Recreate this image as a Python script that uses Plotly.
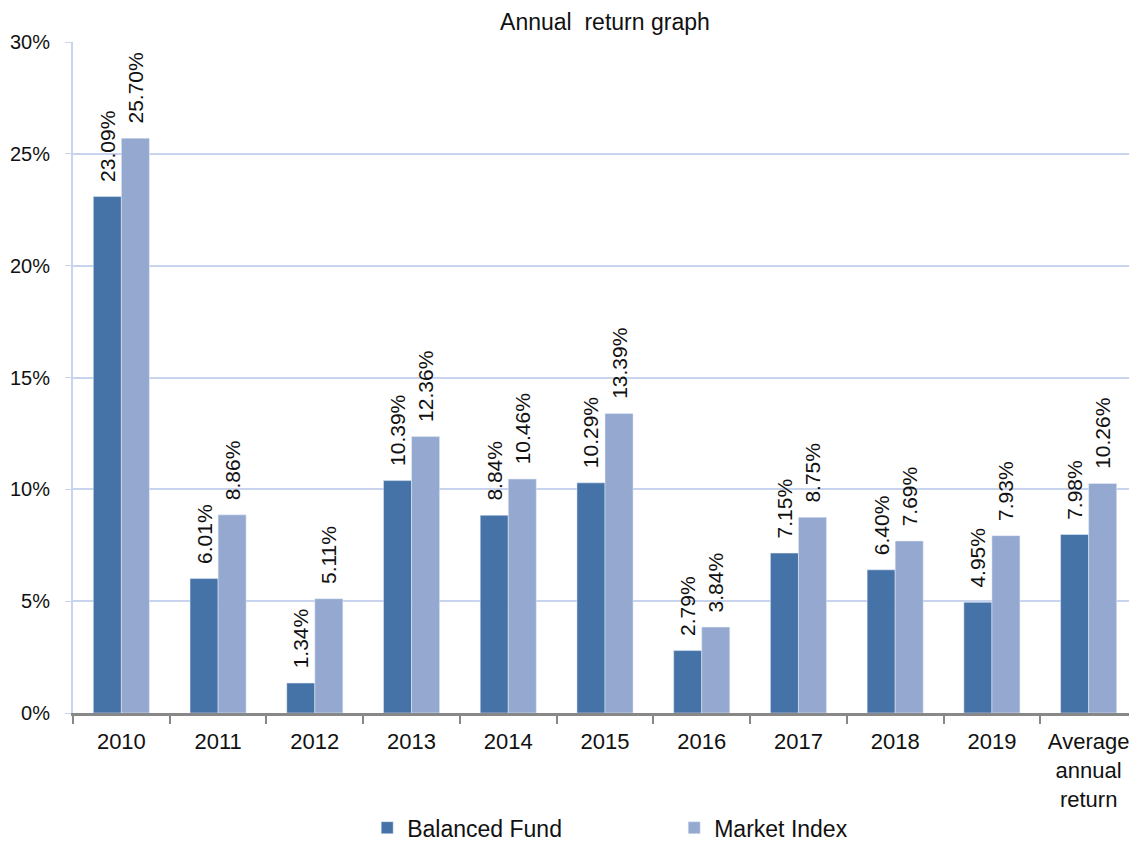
import plotly.graph_objects as go

categories = ["2010", "2011", "2012", "2013", "2014", "2015", "2016", "2017", "2018", "2019", "Average<br>annual<br>return"]
balanced = [23.09, 6.01, 1.34, 10.39, 8.84, 10.29, 2.79, 7.15, 6.40, 4.95, 7.98]
market = [25.70, 8.86, 5.11, 12.36, 10.46, 13.39, 3.84, 8.75, 7.69, 7.93, 10.26]

FONT = "Liberation Sans"
PAD = "\u00a0\u00a0"

fig = go.Figure()
fig.add_trace(go.Bar(
    x=categories, y=balanced, name="Balanced Fund",
    marker=dict(color="#4572a7", line=dict(width=0.5, color="#e8eef8")),
    text=[f"{PAD}{v:.2f}%" for v in balanced], textposition="outside", textangle=-90,
    constraintext="none",
    textfont=dict(family=FONT, size=21, color="#111111"), cliponaxis=False,
))
fig.add_trace(go.Bar(
    x=categories, y=market, name="Market Index",
    marker=dict(color="#95a9d0", line=dict(width=0.5, color="#e8eef8")),
    text=[f"{PAD}{v:.2f}%" for v in market], textposition="outside", textangle=-90,
    constraintext="none",
    textfont=dict(family=FONT, size=21, color="#111111"), cliponaxis=False,
))

fig.update_layout(
    width=1137, height=841,
    margin=dict(l=65, r=8, t=34, b=136, autoexpand=False),
    paper_bgcolor="white", plot_bgcolor="white",
    barmode="group", bargap=0.42, bargroupgap=0,
    font=dict(family=FONT, size=20, color="#111111"),
    title=dict(text="Annual  return graph", x=0.525, xanchor="center", y=0.983, yanchor="middle",
               font=dict(family=FONT, size=23, color="#111111")),
    legend=dict(orientation="h", x=0.2765, xanchor="left", y=-0.171, yanchor="middle",
                font=dict(family=FONT, size=23, color="#111111"), itemwidth=30,
                entrywidth=262, entrywidthmode="pixels", traceorder="normal"),
    xaxis=dict(
        automargin=False,
        showgrid=False, showline=True, linecolor="#888888", linewidth=3,
        ticks="outside", ticklen=8, tickcolor="#888888", tickwidth=2,
        ticklabelstandoff=7,
        tickson="boundaries", tickfont=dict(family=FONT, size=22, color="#111111"),
    ),
    yaxis=dict(
        automargin=False,
        range=[0, 30], dtick=5, ticksuffix="%",
        showgrid=True, gridcolor="#c8d4ee", gridwidth=2,
        showline=True, linecolor="#c8d4ee", linewidth=2,
        ticks="outside", ticklen=6, tickcolor="#c8d4ee",
        ticklabelstandoff=11,
        tickfont=dict(family=FONT, size=20, color="#111111"),
        zeroline=False,
    ),
)

fig.write_html("out.html")
